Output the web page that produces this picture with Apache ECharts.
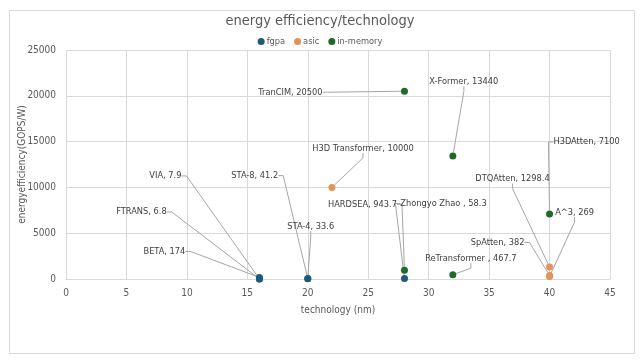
<!DOCTYPE html>
<html>
<head>
<meta charset="utf-8">
<script src="https://cdn.jsdelivr.net/npm/echarts@6/dist/echarts.min.js"></script>
<style>html,body{margin:0;padding:0;background:#fff;}#c{width:640px;height:362px;}</style>
</head>
<body>
<div id="c"></div>
<script>
// ---- data ----
var seriesNames = ['fgpa', 'asic', 'in-memory'];
var fgpaNames = ['BETA', 'FTRANS', 'VIA', 'STA-8', 'STA-4', 'Zhongyo Zhao '];
var fgpaTech = [16, 16, 16, 20, 20, 28];
var fgpaEff = [174, 6.8, 7.9, 41.2, 33.6, 58.3];
var asicNames = ['H3D Transformer', 'SpAtten', 'DTQAtten', 'A^3'];
var asicTech = [22, 40, 40, 40];
var asicEff = [10000, 382, 1298.4, 269];
var memNames = ['TranCIM', 'X-Former', 'H3DAtten', 'HARDSEA', 'ReTransformer '];
var memTech = [28, 32, 40, 28, 32];
var memEff = [20500, 13440, 7100, 943.7, 467.7];
var xTicks = [0, 45, 5];
var yTicks = [0, 25000, 5000];

// label offsets from each point (layout only)
var fgpaOff = [[-95, -26], [-118, -67], [-94, -103], [-53, -103], [3, -52], [39, -75]];
var asicOff = [[31, -39], [-52, -33], [-37, -88], [25, -64]];
var memOff = [[-114, 1], [11, -74], [37, -72], [-42, -66], [18, -16]];

var FONT = "'Liberation Sans Narrow', 'DejaVu Sans Condensed', 'Liberation Sans', sans-serif";
var colors = ['#1d5a78', '#e3925a', '#1d6b2a'];

function build(names, xs, ys) {
  return names.map(function (n, i) { return { name: n, value: [xs[i], ys[i]] }; });
}
function mk(idx, names, xs, ys, offs) {
  return {
    name: seriesNames[idx],
    type: 'scatter',
    symbolSize: 7,
    itemStyle: { color: colors[idx], opacity: 1 },
    data: build(names, xs, ys),
    label: {
      show: true,
      position: 'inside',
      formatter: function (p) { return p.name + ', ' + p.value[1]; },
      color: '#404040',
      fontSize: 9.2,
      fontFamily: FONT
    },
    labelLine: { show: true, length2: 5, lineStyle: { color: '#a6a6a6', width: 1 } },
    labelLayout: function (p) {
      var o = offs[p.dataIndex];
      return {
        x: p.rect.x + p.rect.width / 2 + o[0],
        y: p.rect.y + p.rect.height / 2 + o[1],
        align: 'center',
        verticalAlign: 'middle'
      };
    },
    emphasis: { disabled: true }
  };
}

var chart = echarts.init(document.getElementById('c'), null, { renderer: 'canvas' });
chart.setOption({
  backgroundColor: '#fff',
  animation: false,
  color: colors,
  title: {
    text: 'energy efficiency/technology',
    left: 'center',
    top: 9,
    textStyle: { color: '#595959', fontSize: 14.5, fontWeight: 'normal', fontFamily: FONT }
  },
  legend: {
    data: seriesNames,
    top: 32,
    left: 'center',
    icon: 'circle',
    itemWidth: 7,
    itemHeight: 7,
    itemGap: 9,
    textStyle: { color: '#595959', fontSize: 9.2, fontFamily: FONT, padding: [0, 0, 0, -3] }
  },
  graphic: [{
    type: 'rect',
    left: 7, top: 8,
    shape: { width: 625, height: 343 },
    style: { fill: 'none', stroke: '#d9d9d9', lineWidth: 1 },
    silent: true
  }],
  grid: { left: 66, right: 30, top: 50, bottom: 83, containLabel: false, outerBoundsMode: 'none' },
  xAxis: {
    type: 'value',
    min: xTicks[0], max: xTicks[1], interval: xTicks[2],
    name: 'technology (nm)',
    nameLocation: 'middle',
    nameGap: 26,
    nameMoveOverlap: false,
    nameTextStyle: { color: '#595959', fontSize: 10, fontFamily: FONT },
    axisLine: { show: true, lineStyle: { color: '#d9d9d9' } },
    axisTick: { show: false },
    axisLabel: { color: '#595959', fontSize: 10, fontFamily: FONT, margin: 9 },
    splitLine: { show: true, lineStyle: { color: '#d9d9d9' } }
  },
  yAxis: {
    type: 'value',
    min: yTicks[0], max: yTicks[1], interval: yTicks[2],
    name: 'energyefficiency(GOPS/W)',
    nameLocation: 'middle',
    nameGap: 39,
    nameMoveOverlap: false,
    nameTextStyle: { color: '#595959', fontSize: 10, fontFamily: FONT },
    axisLine: { show: false },
    axisTick: { show: false },
    axisLabel: { color: '#595959', fontSize: 10, fontFamily: FONT, margin: 10,
      formatter: function (v) { return String(v); } },
    splitLine: { show: true, lineStyle: { color: '#d9d9d9' } }
  },
  series: [
    mk(0, fgpaNames, fgpaTech, fgpaEff, fgpaOff),
    mk(1, asicNames, asicTech, asicEff, asicOff),
    mk(2, memNames, memTech, memEff, memOff)
  ]
});
</script>
</body>
</html>
